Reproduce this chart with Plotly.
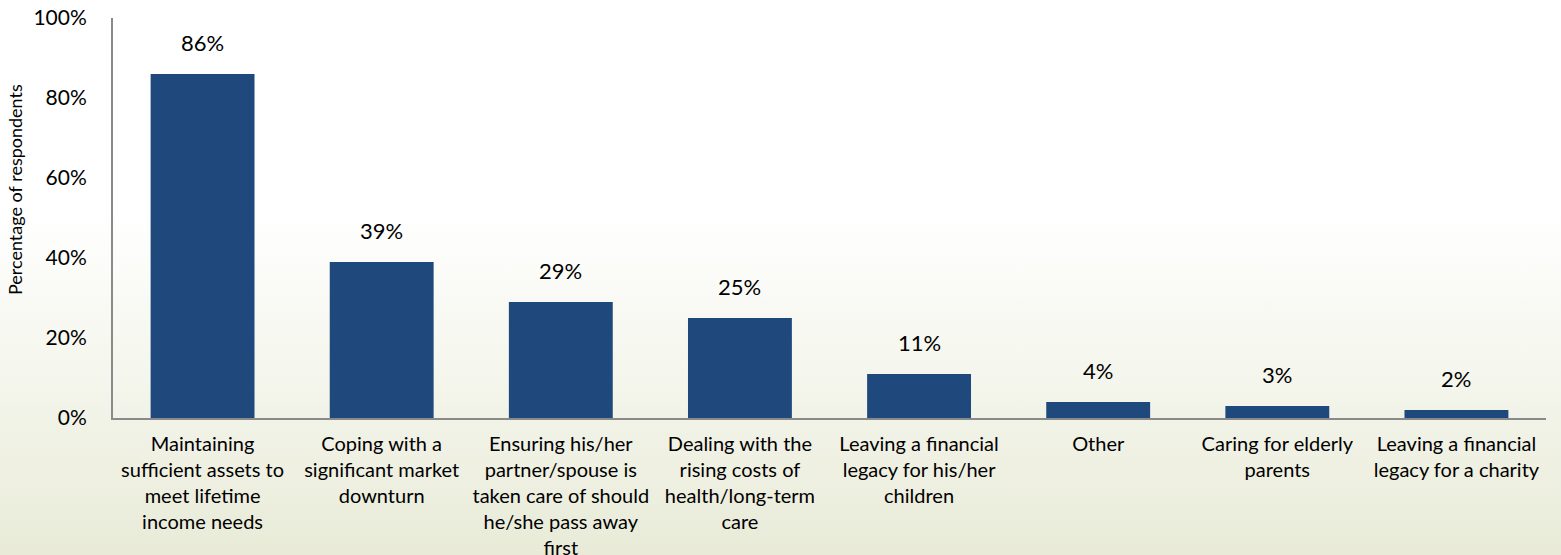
import base64
import plotly.graph_objects as go

categories = [
    "Maintaining<br>sufficient assets to<br>meet lifetime<br>income needs",
    "Coping with a<br>significant market<br>downturn",
    "Ensuring his/her<br>partner/spouse is<br>taken care of should<br>he/she pass away<br>first",
    "Dealing with the<br>rising costs of<br>health/long-term<br>care",
    "Leaving a financial<br>legacy for his/her<br>children",
    "Other",
    "Caring for elderly<br>parents",
    "Leaving a financial<br>legacy for a charity",
]
values = [86, 39, 29, 25, 11, 4, 3, 2]
y_ticks = [0, 20, 40, 60, 80, 100]
y_title = "Percentage of respondents"

W, H = 1561, 555
ML, MR, MT, MB = 113, 15, 18, 137
PW, PH = W - ML - MR, H - MT - MB

FONT = "Lato"
BAR = "#1f497d"
AXIS = "#8a8a8a"

# Vertical background gradient: white at top, pale sage toward the bottom
svg = (
    '<svg xmlns="http://www.w3.org/2000/svg" width="100" height="100" preserveAspectRatio="none">'
    '<defs><linearGradient id="g" x1="0" y1="0" x2="0" y2="1">'
    '<stop offset="0" stop-color="#ffffff"/>'
    '<stop offset="0.38" stop-color="#ffffff"/>'
    '<stop offset="1" stop-color="#e9ebd8"/>'
    '</linearGradient></defs>'
    '<rect width="100" height="100" fill="url(#g)"/></svg>'
)
bg_uri = "data:image/svg+xml;base64," + base64.b64encode(svg.encode()).decode()

fig = go.Figure(
    go.Bar(
        x=categories,
        y=values,
        marker=dict(color=BAR, line=dict(width=0)),
        hoverinfo="skip",
    )
)

# Value labels above each bar
for c, v in zip(categories, values):
    fig.add_annotation(
        x=c, y=v, text=f"{v}%", showarrow=False,
        yanchor="bottom", yshift=16,
        font=dict(family=FONT, size=22, color="#000000"),
    )

# Vertical axis title, placed a little above the plot's middle
fig.add_annotation(
    text=y_title, textangle=-90, showarrow=False,
    xref="paper", yref="paper",
    x=(15 - ML) / PW, y=(H - MB - 190) / PH,
    xanchor="center", yanchor="middle",
    font=dict(family=FONT, size=18, color="#000000"),
)

fig.add_layout_image(
    source=bg_uri, xref="paper", yref="paper",
    x=-ML / PW, y=1 + MT / PH, sizex=W / PW, sizey=H / PH,
    xanchor="left", yanchor="top", sizing="stretch", layer="below",
)

fig.update_layout(
    width=W, height=H,
    margin=dict(l=ML, r=MR, t=MT, b=MB, autoexpand=False),
    paper_bgcolor="rgba(0,0,0,0)",
    plot_bgcolor="rgba(0,0,0,0)",
    bargap=0.42,
    showlegend=False,
    font=dict(family=FONT, color="#000000"),
    xaxis=dict(
        automargin=False,
        showline=True, linecolor=AXIS, linewidth=2,
        ticks="", showgrid=False,
        tickfont=dict(family=FONT, size=20),
        ticklabelstandoff=7,
    ),
    yaxis=dict(
        automargin=False,
        range=[0, 100], tickvals=y_ticks,
        ticktext=[f"{t}%" for t in y_ticks],
        showline=True, linecolor=AXIS, linewidth=2,
        ticks="", showgrid=False, zeroline=False,
        tickfont=dict(family=FONT, size=21),
        ticklabelstandoff=20,
    ),
)

fig.write_html("out.html")
